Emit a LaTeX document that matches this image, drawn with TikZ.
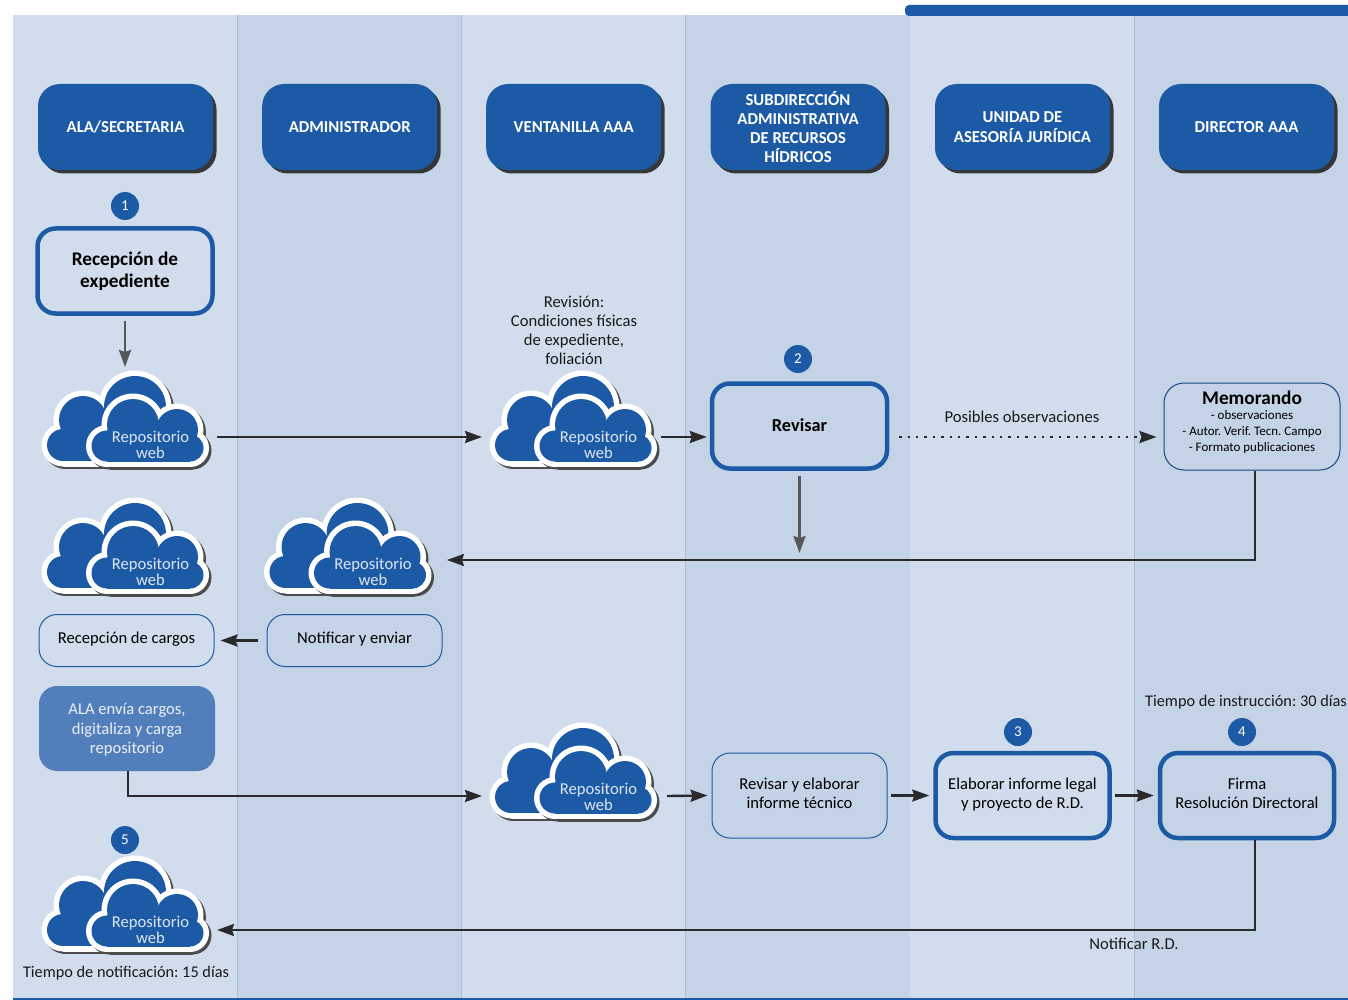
\documentclass[tikz,border=0pt]{standalone}
\usepackage{fontspec}
\setmainfont{Carlito}
\usetikzlibrary{arrows.meta,shadows,calc}
\definecolor{lanea}{HTML}{D1DDEC}
\definecolor{laneb}{HTML}{C4D3E6}
\definecolor{laneline}{HTML}{A9C0DC}
\definecolor{aaablue}{HTML}{1C5AA6}
\definecolor{softblue}{HTML}{527FBB}
\definecolor{linedark}{HTML}{2A2A2C}
\definecolor{linegray}{HTML}{55575A}
\tikzset{
  txt/.style={align=center,inner sep=0pt,text=black!90,font=\frenchspacing\fontsize{16.6}{19}\selectfont},
  head/.style={rounded corners=22pt,fill=aaablue,text=white,align=center,inner sep=0pt,
    minimum width=175pt,minimum height=86pt,font=\bfseries\fontsize{16.7}{19}\selectfont,
    drop shadow={shadow xshift=3.5pt,shadow yshift=-3.5pt,fill=black!85,opacity=.9}},
  thick box/.style={draw=aaablue,line width=4.5pt,rounded corners=18pt,align=center,inner sep=0pt,
    minimum width=174pt,minimum height=85pt,font=\frenchspacing\fontsize{16.6}{19}\selectfont},
  thin box/.style={draw=aaablue,line width=1pt,rounded corners=18pt,align=center,inner sep=0pt,
    minimum width=175pt,minimum height=52pt,font=\frenchspacing\fontsize{16.6}{19}\selectfont},
  badge/.style={circle,fill=aaablue,text=white,minimum size=28pt,inner sep=0pt,font=\fontsize{15}{15}\selectfont},
  flow/.style={draw=linedark,line width=2.4pt,-{Stealth[length=17pt,width=12pt,inset=2pt]}},
  down/.style={draw=linegray,line width=2.4pt,-{Stealth[length=17pt,width=12pt,inset=2pt]}},
  repocloud/.pic={
    % back cloud
    \foreach \grow/\col/\dx in {5.5/black!70/2.5,5.5/white/0,0/aaablue/0}{
      \begin{scope}[xshift=\dx pt,yshift=-\dx pt,fill=\col]
        \fill (20,75) circle[radius=16+\grow];
        \fill (40,50) circle[radius=24+\grow];
        \fill (92,37) circle[radius=31+\grow];
        \fill (20,60-\grow) rectangle (120,91+\grow);
        \fill (40,45) rectangle (92,70);
      \end{scope}
    }
    % front cloud
    \foreach \grow/\col/\dx in {5.5/black!70/2.5,5.5/white/0,0/aaablue/0}{
      \begin{scope}[xshift=\dx pt,yshift=-\dx pt,fill=\col]
        \fill (64,76) circle[radius=15.5+\grow];
        \fill (90,55) circle[radius=26+\grow];
        \fill (134,60) circle[radius=21+\grow];
        \fill (147,78) circle[radius=13.5+\grow];
        \fill (64,60) rectangle (147,91.5+\grow);
      \end{scope}
    }
    \node[align=center,inner sep=0pt,text=white!85!aaablue,font=\fontsize{16.6}{16}\selectfont] (-txt) at (107.5,75) {Repositorio\\web};
    \coordinate (-in) at (-9,75);
    \coordinate (-out) at (174,75);
    \coordinate (-top) at (82,-3);
  }
}
\begin{document}
\begin{tikzpicture}[x=1pt,y=-1pt]
  \useasboundingbox (0,0) rectangle (1348,1000);
  \fill[white] (0,0) rectangle (1348,1000);

  % lanes
  \fill[lanea] (13,15) rectangle (237,998);
  \fill[laneb] (237,15) rectangle (461,998);
  \fill[lanea] (461,15) rectangle (685,998);
  \fill[laneb] (685,15) rectangle (910,998);
  \fill[lanea] (910,15) rectangle (1134,998);
  \fill[laneb] (1134,15) rectangle (1348,998);
  \foreach \x in {237,461,685,1134}
    \draw[laneline,line width=1pt] (\x,15) -- (\x,998);
  \fill[aaablue] (13,998) rectangle (1348,1000);
  \fill[aaablue,rounded corners=4pt] (905,5) rectangle (1360,16);

  % headers
  \node[head] (ala) at (125.5,127) {ALA/SECRETARIA};
  \node[head] (admin) at (349.7,127) {ADMINISTRADOR};
  \node[head] (vent) at (573.7,127) {VENTANILLA AAA};
  \node[head] (sub) at (798,127) {SUBDIRECCIÓN\\ADMINISTRATIVA\\DE RECURSOS\\HÍDRICOS};
  \node[head] (unid) at (1022.5,127) {UNIDAD DE\\[1pt]ASESORÍA JURÍDICA};
  \node[head] (dir) at (1246.5,127) {DIRECTOR AAA};

  % badges
  \node[badge] (num1) at (125,206) {1};
  \node[badge] (num2) at (798,359) {2};
  \node[badge] (num3) at (1018,732) {3};
  \node[badge] (num4) at (1242,732) {4};
  \node[badge] (num5) at (125,840) {5};

  % clouds
  \pic (cloud1) at (43,370) {repocloud};
  \pic (cloud2) at (491,370) {repocloud};
  \pic (cloud3) at (43,497) {repocloud};
  \pic (cloud4) at (265.5,497) {repocloud};
  \pic (cloud5) at (491,722) {repocloud};
  \pic (cloud6) at (43,855) {repocloud};

  % boxes
  \node[thick box,font=\bfseries\fontsize{19.3}{22}\selectfont,minimum width=175pt] (recep) at (125,271) {Recepción de\\expediente};
  \node[thick box,font=\bfseries\fontsize{18.3}{22}\selectfont,minimum width=175pt,text depth=2pt] (revisar) at (799.5,426) {Revisar};
  \node[thin box,rounded corners=20pt,minimum width=176pt,minimum height=87pt,draw=aaablue!80!black,text depth=11pt] (memo) at (1252,426.5) {\bfseries\fontsize{19.3}{19}\selectfont Memorando\\[-4pt]
    \fontsize{13}{16}\selectfont - observaciones\\[-3pt]\fontsize{13}{16}\selectfont - Autor. Verif. Tecn. Campo\\[-3pt]\fontsize{13}{16}\selectfont - Formato publicaciones};
  \node[thin box,text depth=5.5pt] (cargos) at (126.5,640.5) {Recepción de cargos};
  \node[thin box,text depth=5.5pt] (notif) at (354.5,640.5) {Notificar y enviar};
  \node[rounded corners=18pt,fill=softblue,text=white!88!softblue,align=center,inner sep=0pt,minimum width=176pt,minimum height=85pt,text depth=0pt,font=\frenchspacing\fontsize{16.6}{19.5}\selectfont] (envia) at (127,728.5) {ALA envía cargos,\\digitaliza y carga\\repositorio};
  \node[thin box,minimum height=85pt,text depth=4pt] (tecn) at (799.5,795.5) {Revisar y elaborar\\informe técnico};
  \node[thick box,text depth=5.5pt] (legal) at (1022.5,795.5) {Elaborar informe legal\\y proyecto de R.D.};
  \node[thick box,text depth=4pt] (firma) at (1247,795.5) {Firma\\Resolución Directoral};

  % labels
  \node[txt] (revis) at (574,330) {Revisión:\\Condiciones físicas\\de expediente,\\foliación};
  \node[txt] (posib) at (1022,417) {Posibles observaciones};
  \node[txt,font=\frenchspacing\fontsize{16.3}{19}\selectfont] (tinst) at (1246,702) {Tiempo de instrucción: 30 días};
  \node[txt,font=\frenchspacing\fontsize{16.3}{19}\selectfont] (tnotif) at (126,973) {Tiempo de notificación: 15 días};
  \node[txt] (notrd) at (1134,944) {Notificar R.D.};

  % connectors
  \coordinate (revdown) at (799.5,553);
  \coordinate (backend) at (447,560);
  \draw[down] ([yshift=-5pt]recep.south) -- (recep.south |- cloud1-top);
  \draw[flow] ([yshift=8pt]cloud1-out) -- ([yshift=8pt]cloud2-in);
  \draw[flow] ([yshift=8pt,xshift=-4pt]cloud2-out) -- ([yshift=8pt,xshift=-3pt]revisar.west |- cloud2-out);
  \draw[down] ([yshift=-5pt]revisar.south) -- (revdown);
  \draw[flow,dash pattern=on 2.4pt off 6pt] ([xshift=10pt,yshift=8pt]revisar.east |- cloud2-out) -- ([xshift=-7pt,yshift=8pt]memo.west |- cloud2-out);
  \draw[flow] ([xshift=3pt]memo.south) |- (backend);
  \draw[flow] ([xshift=-9pt]notif.west) -- ([xshift=6pt]cargos.east);
  \draw[flow] ([xshift=1pt]envia.south) |- ([yshift=1pt]cloud5-in);
  \draw[flow] ([yshift=1pt,xshift=2pt]cloud5-out) -- ([xshift=-4pt]tecn.west);
  \draw[flow] ([xshift=3pt]tecn.east) -- ([xshift=-4pt]legal.west);
  \draw[flow] ([xshift=3pt]legal.east) -- ([xshift=-4pt]firma.west);
  \draw[flow] ([xshift=8pt]firma.south) |- (cloud6-out);
\end{tikzpicture}
\end{document}
